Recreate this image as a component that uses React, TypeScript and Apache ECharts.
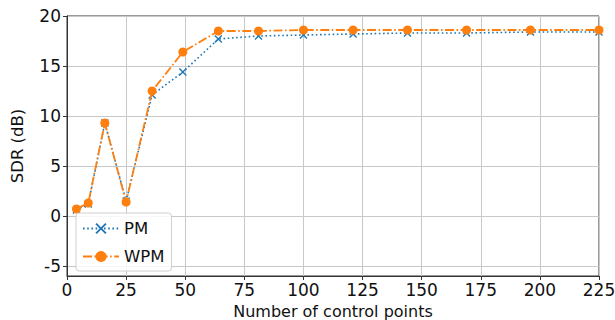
import React, { useEffect, useRef } from "react";
import * as echarts from "echarts";

const controlPoints = [4, 9, 16, 25, 36, 49, 64, 81, 100, 121, 144, 169, 196, 225];
const pmValues = [0.6, 1.2, 9.3, 1.5, 12.1, 14.4, 17.7, 18.0, 18.1, 18.2, 18.3, 18.3, 18.4, 18.4];
const wpmValues = [0.7, 1.3, 9.3, 1.4, 12.5, 16.4, 18.5, 18.5, 18.6, 18.6, 18.6, 18.6, 18.6, 18.6];
const xTicks = [0, 25, 50, 75, 100, 125, 150, 175, 200, 225];
const yTicks = [-5, 0, 5, 10, 15, 20];

const FONT = "DejaVu Sans";
const BLUE = "#1f77b4";
const ORANGE = "#ff7f0e";
const X_SYMBOL =
  "path://M0,1.2 L1.2,0 L5,3.8 L8.8,0 L10,1.2 L6.2,5 L10,8.8 L8.8,10 L5,6.2 L1.2,10 L0,8.8 L3.8,5 Z";

export default function App() {
  const ref = useRef<HTMLDivElement>(null);
  useEffect(() => {
    if (!ref.current) return;
    const chart = echarts.init(ref.current, null, { renderer: "svg" });
    chart.setOption({
      animation: false,
      textStyle: { fontFamily: FONT },
      grid: {
        left: 67,
        right: 16,
        top: 16,
        bottom: 44,
        outerBoundsMode: "none",
        containLabel: false,
        show: true,
        borderColor: "#333",
        borderWidth: 1,
        backgroundColor: "transparent",
      },
      legend: {
        left: 76,
        top: 213,
        orient: "vertical",
        itemWidth: 36,
        itemHeight: 14,
        itemGap: 11,
        padding: [7, 7, 6, 6],
        backgroundColor: "rgba(255,255,255,0.85)",
        borderColor: "#d0d0d0",
        borderWidth: 1,
        borderRadius: 3,
        textStyle: { fontFamily: FONT, fontSize: 16.5, color: "#111" },
        data: ["PM", "WPM"],
      },
      xAxis: {
        type: "value",
        min: 0,
        max: 225,
        interval: 25,
        name: "Number of control points",
        nameLocation: "middle",
        nameGap: 23,
        nameTextStyle: { fontFamily: FONT, fontSize: 16, lineHeight: 18, color: "#111" },
        axisLine: { show: true, onZero: false, lineStyle: { color: "#333", width: 1 } },
        axisTick: { show: true, length: 4, lineStyle: { color: "#333" }, customValues: xTicks },
        axisLabel: { fontFamily: FONT, fontSize: 17, color: "#111", margin: 5, customValues: xTicks },
        splitLine: { show: true, lineStyle: { color: "#c8c8c8", width: 1 } },
      },
      yAxis: {
        type: "value",
        min: -6,
        max: 20,
        name: "SDR (dB)",
        nameLocation: "middle",
        nameGap: 41,
        nameTextStyle: { fontFamily: FONT, fontSize: 16.5, color: "#111" },
        axisLine: { show: true, onZero: false, lineStyle: { color: "#333", width: 1 } },
        axisTick: { show: true, length: 4, lineStyle: { color: "#333" }, customValues: yTicks },
        axisLabel: { fontFamily: FONT, fontSize: 17, color: "#111", margin: 6, customValues: yTicks },
        splitLine: { show: true, lineStyle: { color: "#c8c8c8", width: 1 } },
      },
      series: [
        {
          name: "PM",
          type: "line",
          data: controlPoints.map((x, i) => [x, pmValues[i]]),
          symbol: X_SYMBOL,
          symbolSize: 8,
          color: BLUE,
          itemStyle: { color: BLUE },
          lineStyle: { color: BLUE, width: 1.6, type: [1.6, 2.6] },
          z: 2,
        },
        {
          name: "WPM",
          type: "line",
          data: controlPoints.map((x, i) => [x, wpmValues[i]]),
          symbol: "circle",
          symbolSize: 9,
          color: ORANGE,
          itemStyle: { color: ORANGE },
          lineStyle: { color: ORANGE, width: 1.8, type: [9, 2.5, 1.6, 2.5] },
          z: 3,
        },
      ],
    });
    return () => chart.dispose();
  }, []);
  return <div ref={ref} style={{ width: 615, height: 320, position: "absolute", left: 0, top: 0 }} />;
}
